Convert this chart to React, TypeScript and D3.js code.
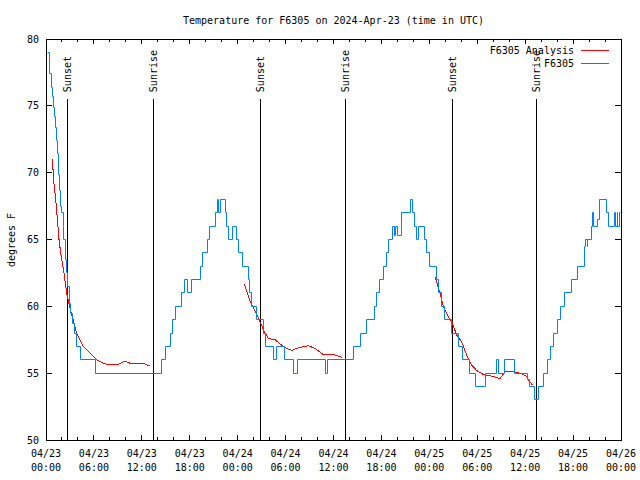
import React from "react";
import * as d3 from "d3";

// ---- Data (hours since 2024-04-23 00:00 UTC, temperature °F) ----
const obsHours = [
  0.25, 0.38, 0.5, 0.66, 0.79, 0.91, 1.04, 1.21, 1.34, 1.41, 1.54, 1.72, 1.84, 1.97, 2.13, 2.25, 2.38, 2.5, 2.59, 2.67,
  2.88, 3.09, 3.29, 3.51, 3.79, 4.35, 6.2, 14.4, 14.95, 15.65, 15.9, 16.2, 16.95, 17.4, 17.7, 18.2, 19.3, 19.55, 20.25,
  20.5, 21.2, 21.45, 21.65, 21.85, 22.45, 22.62, 22.8, 23.4, 23.85, 24.1, 24.6, 25.3, 25.5, 25.72, 26.4,
  27.25, 27.5, 28.5, 28.9, 29.9, 30.95, 31.55, 34.95, 35.25, 38.45, 39.4, 40.1, 41.15, 41.4, 41.8, 42.2, 42.6, 42.85,
  43.35, 43.6, 43.8, 44.05, 44.5, 45.65, 45.95, 46.2, 46.45, 46.7, 47.45, 47.65, 48.05, 48.9,
  49.1, 49.5, 49.95, 50.8, 51.6, 52.2, 53.0, 53.8, 55.05, 56.45, 56.6, 57.45, 58.7, 60.3, 60.55, 61.2, 61.65, 62.3,
  62.75, 63.15, 63.5, 64.0, 64.4, 64.95, 65.8, 66.5, 67.45, 67.6, 67.75, 67.85, 68.3, 68.45, 68.6, 69.0, 69.25, 70.2,
  70.4, 71.15, 71.3, 71.5, 71.6, 71.78, 71.9,
];
const obsTemps = [
  79.0, 78.4, 77.4, 76.4, 75.7, 74.9, 74.2, 73.4, 72.4, 71.4, 69.9, 68.7, 67.5, 67.0, 66.0, 65.0, 64.0, 63.5, 62.5, 61.5,
  60.2, 59.5, 58.7, 58.0, 57.0, 56.0, 55.0, 56.0, 57.0, 58.0, 59.0, 60.0, 61.0, 62.0, 61.0, 62.0, 63.0, 64.0, 65.0,
  66.0, 67.0, 68.0, 67.0, 68.0, 67.0, 66.0, 65.0, 66.0, 65.0, 64.0, 63.0, 62.0, 61.0, 60.0, 59.0,
  58.0, 57.0, 56.0, 57.0, 56.0, 55.0, 56.0, 55.0, 56.0, 57.0, 58.0, 59.0, 60.0, 61.0, 62.0, 63.0, 64.0, 65.0,
  66.0, 65.3, 66.0, 65.3, 67.0, 68.0, 67.0, 66.0, 65.0, 66.0, 65.0, 64.0, 63.0, 62.0,
  61.0, 60.0, 59.0, 58.0, 57.0, 56.0, 55.0, 54.0, 55.0, 56.0, 55.0, 56.0, 55.0, 54.5, 54.0, 53.0, 54.0, 55.0,
  56.0, 57.0, 58.0, 59.0, 60.0, 61.0, 62.0, 63.0, 64.5, 65.0, 64.5, 65.0, 66.0, 67.0, 66.0, 66.5, 68.0, 67.0,
  66.0, 67.0, 66.0, 67.0, 66.0, 67.0, 67.0,
];

const analysisHours = [
  [0.79, 1.0, 1.29, 1.63, 1.84, 2.25, 2.59, 2.88, 3.17, 3.84, 4.26, 4.67, 5.51, 6.35, 6.85, 7.6, 9.05, 9.39, 9.83, 10.27, 10.73, 12.4, 12.65, 13.02],
  [24.83, 25.54, 26.38, 26.8, 27.43, 27.84, 28.68, 29.3, 29.93, 30.77, 31.59, 32.85, 33.68, 34.72, 35.98, 37.03],
  [48.71, 49.34, 49.75, 50.38, 50.8, 51.43, 52.05, 52.68, 53.31, 53.93, 54.76, 56.01, 56.85, 57.48, 58.52, 59.35, 60.19, 60.52, 60.94],
];
const analysisTemps = [
  [71.0, 69.2, 67.5, 65.0, 64.0, 62.5, 61.0, 60.2, 59.5, 58.0, 57.5, 57.0, 56.5, 56.0, 55.85, 55.65, 55.65, 55.75, 55.9, 55.8, 55.7, 55.7, 55.6, 55.6],
  [61.65, 60.4, 59.4, 58.85, 58.0, 57.6, 57.5, 57.2, 56.9, 56.7, 56.9, 57.05, 56.85, 56.4, 56.4, 56.2],
  [62.2, 61.0, 60.0, 59.2, 58.85, 57.85, 57.35, 56.35, 55.6, 55.2, 54.9, 54.75, 54.6, 55.1, 55.1, 55.0, 54.75, 54.4, 54.1],
];

const sunHours = [2.75, 13.44, 26.83, 37.48, 50.88, 61.4];
const sunLabels = ["Sunset", "Sunrise", "Sunset", "Sunrise", "Sunset", "Sunrise"];
const sunLineTopTemp = 75.5;

const xTickDates = ["04/23", "04/23", "04/23", "04/23", "04/24", "04/24", "04/24", "04/24", "04/25", "04/25", "04/25", "04/25", "04/26"];
const xTickTimes = ["00:00", "06:00", "12:00", "18:00", "00:00", "06:00", "12:00", "18:00", "00:00", "06:00", "12:00", "18:00", "00:00"];
const yTicks = [50, 55, 60, 65, 70, 75, 80];

const title = "Temperature for F6305 on 2024-Apr-23 (time in UTC)";
const yLabel = "degrees F";
const seriesNames = ["F6305 Analysis", "F6305"];
const seriesColors = ["#ff0000", "#0080ff"];

export default function App() {
  const W = 640, H = 480;
  const left = 46, right = 621, top = 39, bottom = 440;
  const x = d3.scaleLinear().domain([0, 72]).range([left, right]);
  const y = d3.scaleLinear().domain([50, 80]).range([bottom, top]);
  const font = "'DejaVu Sans Mono', 'Liberation Mono', monospace";
  const fs = 10;

  const obs = obsHours.map((h, i) => [h, obsTemps[i]] as [number, number]);
  const snap = (v: number) => Math.floor(v) + 0.5;
  const obsLine = d3.line<[number, number]>().x(d => snap(x(d[0]))).y(d => snap(y(d[1]))).curve(d3.curveStepAfter);
  const anaLine = d3.line<[number, number]>().x(d => x(d[0])).y(d => y(d[1]));

  const majorTicks = d3.range(0, 73, 6);
  const minorTicks = d3.range(0, 73, 2).filter(h => h % 6 !== 0);

  return (
    <svg width={W} height={H} style={{ position: "absolute", left: 0, top: 0, background: "#fff" }} fontFamily={font}>
      <rect x={0} y={0} width={W} height={H} fill="#fff" />
      <text x={(left + right) / 2} y={24} textAnchor="middle" fontSize={fs}>{title}</text>

      {/* y ticks */}
      {yTicks.map(t => (
        <g key={"y" + t} shapeRendering="crispEdges">
          <line x1={left} x2={left + 6} y1={y(t)} y2={y(t)} stroke="#000" />
          <line x1={right - 6} x2={right} y1={y(t)} y2={y(t)} stroke="#000" />
          <text x={left - 7} y={y(t)} dy="0.35em" textAnchor="end" fontSize={fs}>{t}</text>
        </g>
      ))}
      {/* x ticks */}
      {majorTicks.map((h, i) => (
        <g key={"xm" + h} shapeRendering="crispEdges">
          <line x1={x(h)} x2={x(h)} y1={bottom} y2={bottom - 5} stroke="#000" />
          <line x1={x(h)} x2={x(h)} y1={top} y2={top + 5} stroke="#000" />
          <text x={x(h)} y={457} textAnchor="middle" fontSize={fs}>{xTickDates[i]}</text>
          <text x={x(h)} y={471} textAnchor="middle" fontSize={fs}>{xTickTimes[i]}</text>
        </g>
      ))}
      {minorTicks.map(h => (
        <g key={"xn" + h} shapeRendering="crispEdges">
          <line x1={x(h)} x2={x(h)} y1={bottom} y2={bottom - 3} stroke="#000" />
          <line x1={x(h)} x2={x(h)} y1={top} y2={top + 3} stroke="#000" />
        </g>
      ))}

      <text transform={`translate(11,240) rotate(-90)`} textAnchor="middle" dy="0.35em" fontSize={fs}>{yLabel}</text>

      {/* sunrise / sunset */}
      {sunHours.map((h, i) => (
        <g key={"s" + i}>
          <line x1={x(h)} x2={x(h)} y1={y(sunLineTopTemp)} y2={bottom} stroke="#000" shapeRendering="crispEdges" />
          <text transform={`translate(${x(h)},${y(sunLineTopTemp) - 7}) rotate(-90)`} dy="0.35em" fontSize={fs}>{sunLabels[i]}</text>
        </g>
      ))}

      {/* analysis */}
      {analysisHours.map((hs, k) => (
        <path key={"a" + k} d={anaLine(hs.map((h, i) => [h, analysisTemps[k][i]] as [number, number])) || ""}
          fill="none" stroke={seriesColors[0]} strokeWidth={1} shapeRendering="crispEdges" />
      ))}
      {/* observations */}
      <path d={obsLine(obs) || ""} fill="none" stroke={seriesColors[1]} strokeWidth={1} />

      {/* legend */}
      {seriesNames.map((n, i) => (
        <g key={"l" + i}>
          <text x={574} y={50 + i * 13} dy="0.35em" textAnchor="end" fontSize={fs}>{n}</text>
          <line x1={581} x2={609} y1={50 + i * 13} y2={50 + i * 13} stroke={seriesColors[i]} shapeRendering="crispEdges" />
        </g>
      ))}

      <rect x={left} y={top} width={right - left} height={bottom - top} fill="none" stroke="#000" shapeRendering="crispEdges" />
    </svg>
  );
}
